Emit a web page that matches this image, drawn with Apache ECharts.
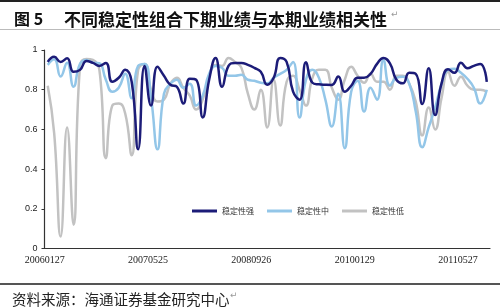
<!DOCTYPE html>
<html>
<head>
<meta charset="utf-8">
<script src="https://cdn.jsdelivr.net/npm/echarts@6/dist/echarts.min.js"></script>
<style>
  html, body { margin: 0; padding: 0; background: #fff; }
  #chart { width: 500px; height: 308px; }
</style>
</head>
<body>
<div id="chart"></div>
<script>
// monthly points, Jan 2006 .. Sep 2011
var tickLabels = ['20060127', '20070525', '20080926', '20100129', '20110527'];
var tickStep = 16;

var strong = [
    0.94, 0.966, 0.94, 0.958, 0.89, 0.90, 0.945, 0.935, 0.92, 0.935,
    0.84, 0.86, 0.90, 0.84, 0.50, 0.92, 0.72, 0.915, 0.87, 0.825,
    0.815, 0.73, 0.855, 0.85, 0.66, 0.85, 0.96, 0.815, 0.92, 0.935,
    0.935, 0.925, 0.91, 0.89, 0.825, 0.86, 0.96, 0.94, 0.79, 0.75,
    0.938, 0.835, 0.827, 0.825, 0.824, 0.866, 0.79, 0.82, 0.86, 0.86,
    0.88, 0.93, 0.96, 0.933, 0.85, 0.832, 0.885, 0.88, 0.728, 0.908,
    0.672, 0.832, 0.903, 0.885, 0.936, 0.908, 0.92, 0.93, 0.84
];
var medium = [
    0.925, 0.953, 0.866, 0.936, 0.815, 0.93, 0.95, 0.936, 0.933, 0.85,
    0.79, 0.81, 0.88, 0.757, 0.92, 0.93, 0.76, 0.50, 0.78, 0.83,
    0.85, 0.81, 0.83, 0.72, 0.77, 0.88, 0.92, 0.91, 0.87, 0.87,
    0.875, 0.85, 0.845, 0.835, 0.832, 0.86, 0.88, 0.90, 0.94, 0.66,
    0.85, 0.90, 0.86, 0.75, 0.615, 0.78, 0.505, 0.79, 0.845, 0.69,
    0.81, 0.75, 0.95, 0.82, 0.86, 0.865, 0.83, 0.69, 0.51, 0.61,
    0.71, 0.83, 0.90, 0.905, 0.885, 0.855, 0.81, 0.73, 0.80
];
var low = [
    0.82, 0.58, 0.06, 0.61, 0.12, 0.92, 0.955, 0.95, 0.90, 0.455,
    0.72, 0.73, 0.68, 0.47, 0.90, 0.93, 0.80, 0.74, 0.75, 0.83,
    0.86, 0.81, 0.77, 0.70, 0.75, 0.87, 0.925, 0.92, 0.96, 0.94,
    0.91, 0.78, 0.70, 0.80, 0.61, 0.85, 0.62, 0.84, 0.87, 0.80,
    0.72, 0.86, 0.90, 0.90, 0.81, 0.75, 0.85, 0.915, 0.87, 0.835,
    0.88, 0.84, 0.84, 0.80, 0.87, 0.87, 0.83, 0.74, 0.57, 0.71,
    0.60, 0.76, 0.89, 0.82, 0.865, 0.82, 0.80, 0.80, 0.79
];

var categories = [];
for (var i = 0; i < strong.length; i++) {
    var m = i % 12 + 1;
    categories.push(String(2006 + Math.floor(i / 12)) + (m < 10 ? '0' + m : m));
}

var myChart = echarts.init(document.getElementById('chart'));
var cjk = '"Noto Sans CJK SC", sans-serif';
option = {
    backgroundColor: '#fff',
    animation: false,
    title: [
        {
            text: '图 5',
            left: 9,
            top: 6,
            textStyle: { fontSize: 16, fontWeight: 'bold', color: '#111', fontFamily: cjk }
        },
        {
            text: '不同稳定性组合下期业绩与本期业绩相关性',
            left: 59,
            top: 6,
            textStyle: { fontSize: 17, fontWeight: 'bold', color: '#111', fontFamily: cjk }
        },
        {
            text: '资料来源：海通证券基金研究中心',
            left: 7,
            top: 287,
            textStyle: { fontSize: 14.5, fontWeight: 'normal', color: '#222', fontFamily: cjk }
        }
    ],
    graphic: [
        { type: 'rect', shape: { x: 0, y: 0, width: 500, height: 2 }, style: { fill: '#222' } },
        { type: 'rect', shape: { x: 0, y: 29, width: 500, height: 1 }, style: { fill: '#bbb' } },
        { type: 'rect', shape: { x: 0, y: 283, width: 500, height: 2 }, style: { fill: '#555' } },
        { type: 'text', left: 391, top: 10, style: { text: '↵', fontSize: 9, fill: '#999', fontFamily: 'DejaVu Sans' } },
        { type: 'text', left: 230, top: 291, style: { text: '↵', fontSize: 9, fill: '#999', fontFamily: 'DejaVu Sans' } }
    ],
    legend: {
        left: 187,
        top: 202,
        icon: 'rect',
        itemWidth: 25,
        itemHeight: 3,
        itemGap: 13,
        textStyle: { fontSize: 8, color: '#333', fontFamily: cjk }
    },
    grid: {
        left: 44.5,
        right: 10,
        top: 50,
        bottom: 59.5
    },
    xAxis: {
        type: 'category',
        boundaryGap: true,
        data: categories,
        axisLine: { lineStyle: { color: '#333', width: 1.2 } },
        axisTick: { length: 4, lineStyle: { color: '#333' } },
        axisLabel: {
            interval: tickStep - 1,
            margin: 7,
            color: '#222',
            fontSize: 10,
            fontFamily: '"Liberation Serif", serif',
            padding: [0, 6, 0, 0],
            formatter: function (v, idx) {
                return tickLabels[Math.round(idx / tickStep)] || '';
            }
        },
        splitLine: { show: false }
    },
    yAxis: {
        type: 'value',
        min: 0,
        max: 1,
        interval: 0.2,
        axisLine: { show: true, lineStyle: { color: '#333', width: 1.2 } },
        axisTick: { show: true, length: 3, lineStyle: { color: '#333' } },
        axisLabel: { margin: 7, color: '#222', fontSize: 9, fontFamily: '"Liberation Sans", sans-serif' },
        splitLine: { show: false }
    },
    series: [
        {
            name: '稳定性强',
            type: 'line',
            smooth: true,
            showSymbol: false,
            z: 4,
            data: strong,
            color: '#1c1c78',
            lineStyle: { width: 2.5, color: '#1c1c78' }
        },
        {
            name: '稳定性中',
            type: 'line',
            smooth: true,
            showSymbol: false,
            z: 3,
            data: medium,
            color: '#93c6e8',
            lineStyle: { width: 2.5, color: '#93c6e8' }
        },
        {
            name: '稳定性低',
            type: 'line',
            smooth: true,
            showSymbol: false,
            z: 2,
            data: low,
            color: '#c2c2c2',
            lineStyle: { width: 2.5, color: '#c2c2c2' }
        }
    ]
};
myChart.setOption(option);
</script>
</body>
</html>
